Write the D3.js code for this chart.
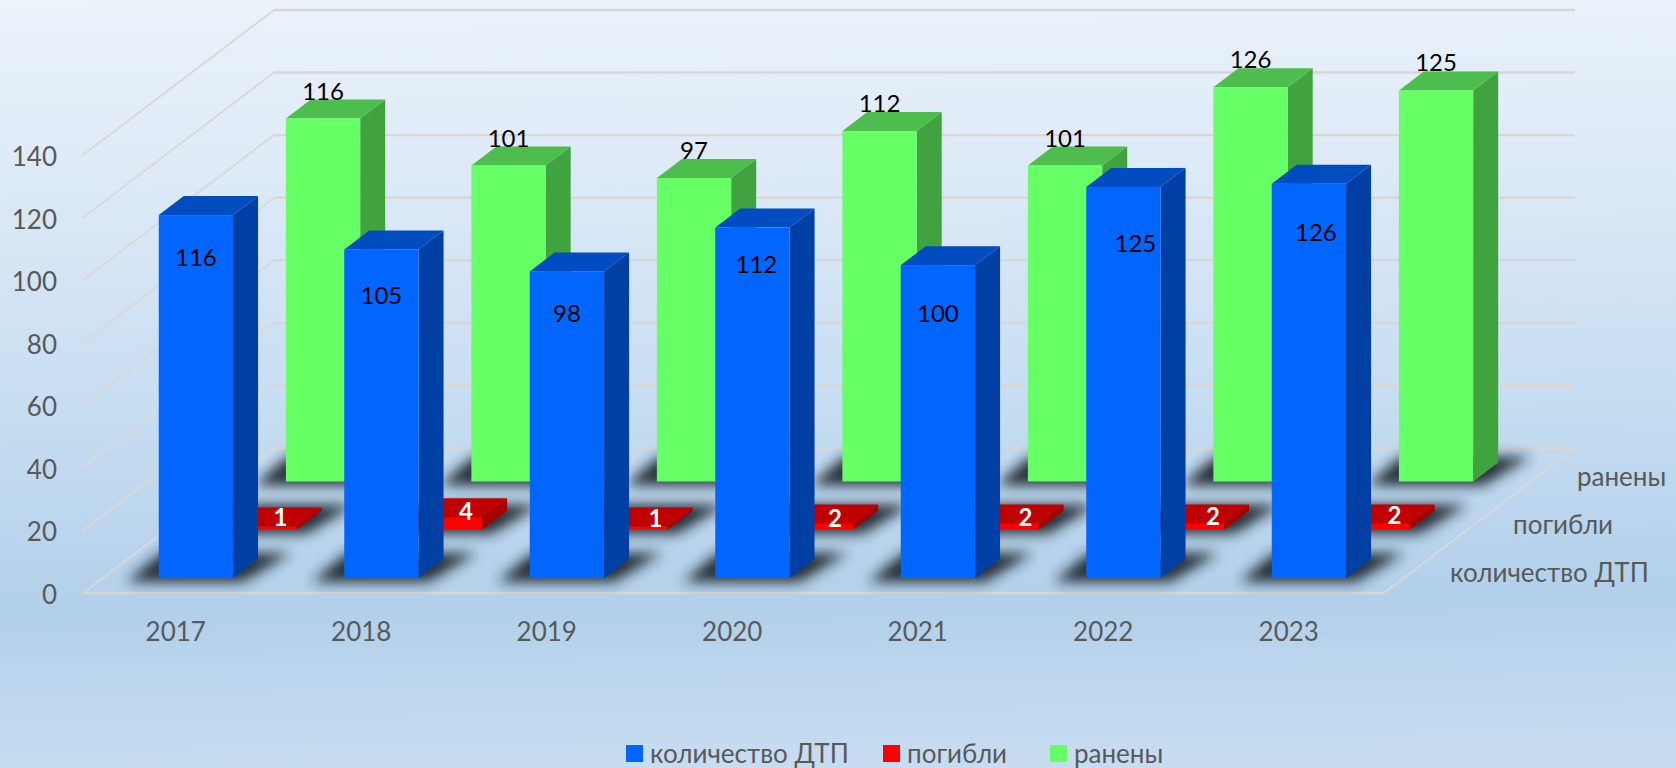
<!DOCTYPE html>
<html><head><meta charset="utf-8">
<style>html,body{margin:0;padding:0;overflow:hidden}svg{display:block}text{font-family:Lato,"Open Sans",sans-serif}</style>
<script src="https://cdn.jsdelivr.net/npm/d3@7"></script>
</head><body><div id="c"></div>
<script>
const years = ["2017","2018","2019","2020","2021","2022","2023"];
const seriesNames = ["количество ДТП","погибли","ранены"];
const accidents = [116,105,98,112,100,125,126];
const deaths = [1,4,1,2,2,2,2];
const injured = [116,101,97,112,101,126,125];
const yTicks = [0,20,40,60,80,100,120,140];

const W=1676,H=768;
const svg=d3.select("#c").append("svg").attr("width",W).attr("height",H);
const defs=svg.append("defs");
const bg=defs.append("linearGradient").attr("id","bg").attr("gradientUnits","userSpaceOnUse")
  .attr("x1",0).attr("y1",0).attr("x2",10).attr("y2",768);
[[0,"#ebf3fb"],[0.25,"#dce9f6"],[0.52,"#c8def2"],[0.8,"#b2d0ea"],[1,"#c7dcf1"]].forEach(s=>bg.append("stop").attr("offset",s[0]).attr("stop-color",s[1]));
defs.append("filter").attr("id","sh").attr("x","-30%").attr("y","-60%").attr("width","160%").attr("height","220%")
  .append("feGaussianBlur").attr("stdDeviation",6.5);
svg.append("rect").attr("width",W).attr("height",H).attr("fill","url(#bg)");

// plot geometry: front-plane value scale, category scale, and depth scale (front -> back)
const y=d3.scaleLinear().domain([0,140]).range([593,155]);
const x=d3.scaleBand().domain(years).range([83,1381.5]).paddingInner(0).paddingOuter(0);
const depthX=d3.scaleLinear().domain([0,1]).range([0,191]);
const depthY=d3.scaleLinear().domain([0,1]).range([0,-145]);
const zPos=d3.scalePoint().domain(seriesNames).range([0.1034,0.769]);
const floorRight=1384;
const barW=74.3, barDX=25, barDY=-19, barLead=56;

// gridlines
const grid=svg.append("g").attr("fill","none").attr("stroke","#d9d6d4");
yTicks.forEach(t=>{
  const y0=y(t), xb=83+depthX(1), yb=y0+depthY(1);
  grid.append("path").attr("d",d3.line()([[83,y0],[xb,yb]])).attr("stroke-width",2).attr("stroke","#dbd8d5");
  grid.append("path").attr("d",d3.line()([[xb,yb],[floorRight+depthX(1),yb]])).attr("stroke-width",2.4);
});
grid.append("path").attr("d",d3.line()([[83,593],[floorRight,593]])).attr("stroke-width",2.6);
grid.append("path").attr("d",d3.line()([[floorRight,593],[floorRight+depthX(1),448]])).attr("stroke-width",2).attr("stroke","#dbd8d5");

const colors={
  "количество ДТП":{front:"#0066ff",side:"#003fa3",top:"#004cc0"},
  "погибли":{front:"#ff0000",side:"#a50000",top:"#c00000"},
  "ранены":{front:"#66ff66",side:"#40a340",top:"#4dbd4d"}
};
const values={"количество ДТП":accidents,"погибли":deaths,"ранены":injured};
const baseX=(yr,s)=>x(yr)+barLead+depthX(zPos(s));
const baseY=s=>593+depthY(zPos(s));
const h=v=>y(0)-y(v);

// floor shadows
const sh=svg.append("g").attr("filter","url(#sh)").attr("fill","#1f262f").attr("opacity",0.95);
seriesNames.forEach(s=>years.forEach(yr=>{
  const a=baseX(yr,s), b=baseY(s);
  sh.append("polygon").attr("points",[[a-32,b+4],[a+barW+10,b+4],[a+barW+58,b-25],[a+2,b-25]].join(" "));
}));

// bars, back row first
[...seriesNames].reverse().forEach(s=>{
  const c=colors[s];
  const g=svg.append("g");
  years.forEach((yr,i)=>{
    const v=values[s][i], a=baseX(yr,s), b=baseY(s), t=b-h(v);
    g.append("polygon").attr("fill",c.side).attr("points",[[a+barW,b],[a+barW+barDX,b+barDY],[a+barW+barDX,t+barDY],[a+barW,t]].join(" "));
    g.append("polygon").attr("fill",c.top).attr("points",[[a,t],[a+barDX,t+barDY],[a+barW+barDX,t+barDY],[a+barW,t]].join(" "));
    g.append("rect").attr("x",a).attr("y",t).attr("width",barW).attr("height",h(v)).attr("fill",c.front);
  });
});

// data labels, with the small per-label placement shifts seen in the chart
const nudgeBlueX=[0,0,0,4,0,12,7], nudgeBlueY=[0,3,0,-6,6,14,6];
const nudgeRedX=[-2,-2,2,-4,1,3,-1], nudgeRedY=[0,4,1,5,4,3,2];
const lab=svg.append("g").attr("text-anchor","middle").attr("font-size",24);
years.forEach((yr,i)=>{
  const s0=seriesNames[2], a2=baseX(yr,s0), t2=baseY(s0)-h(injured[i]);
  lab.append("text").attr("x",a2+barW/2).attr("y",t2-19).attr("fill","#000").text(injured[i]);
  const s1=seriesNames[1], a1=baseX(yr,s1), t1=baseY(s1)-h(deaths[i]);
  lab.append("text").attr("x",a1+barW/2+23+nudgeRedX[i]).attr("y",t1-1+nudgeRedY[i]).attr("fill","#fff").attr("font-weight",700).text(deaths[i]);
  const s2=seriesNames[0], a0=baseX(yr,s2), t0=baseY(s2)-h(accidents[i]);
  lab.append("text").attr("x",a0+barW/2+nudgeBlueX[i]).attr("y",t0+51+nudgeBlueY[i]).attr("fill","#000").text(accidents[i]);
});

// axes text
const ax=svg.append("g").attr("fill","#595959").attr("font-size",26);
yTicks.forEach(t=>ax.append("text").attr("x",57).attr("y",y(t)+11).attr("text-anchor","end").text(t));
years.forEach(yr=>ax.append("text").attr("x",x(yr)+x.bandwidth()/2).attr("y",641).attr("text-anchor","middle").text(yr));
const depthLabelX={"количество ДТП":1450,"погибли":1513,"ранены":1577};
const depthLabelY={"количество ДТП":582,"погибли":534,"ранены":486};
seriesNames.forEach(s=>ax.append("text").attr("x",depthLabelX[s]).attr("y",depthLabelY[s]).text(s));

// legend
const leg=svg.append("g").attr("font-size",26).attr("fill","#595959");
const legX={"количество ДТП":626,"погибли":883,"ранены":1050};
seriesNames.forEach(s=>{
  leg.append("rect").attr("x",legX[s]).attr("y",745).attr("width",17).attr("height",17).attr("fill",colors[s].front);
  leg.append("text").attr("x",legX[s]+24).attr("y",763).text(s);
});
</script></body></html>
